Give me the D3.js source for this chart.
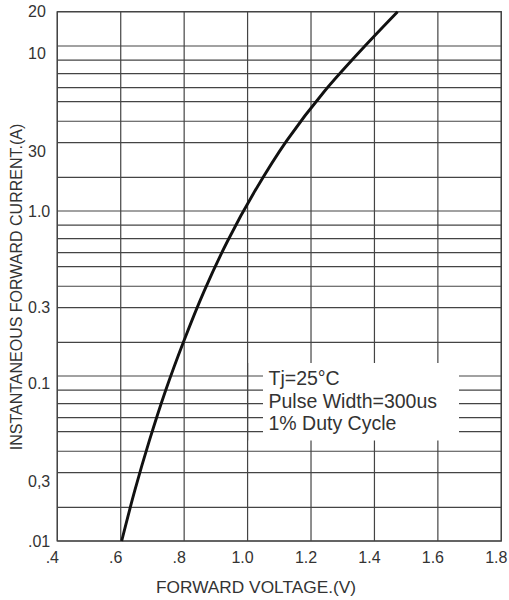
<!DOCTYPE html>
<html><head><meta charset="utf-8">
<script src="https://cdn.jsdelivr.net/npm/d3@7"></script>
<style>
body{margin:0;background:#fff}
svg{display:block}
text{font-family:"Liberation Sans",Arial,Helvetica,sans-serif;fill:#333}
</style>
</head><body>
<svg id="chart" width="509" height="600"></svg>
<script>
// ---- data ----
const voltage = [0.603,0.644,0.690,0.741,0.799,0.863,0.937,1.023,1.123,1.243,1.370,1.473];
const current = [0.01,0.0201,0.0404,0.0811,0.163,0.327,0.658,1.32,2.66,5.34,10,20];

const xTickValues = [0.4,0.6,0.8,1.0,1.2,1.4,1.6,1.8];
const xTickLabels = [".4",".6",".8","1.0","1.2","1.4","1.6","1.8"];

const yGridValues = [20,10,8.2,6.8,5.6,4.6,3.5,2.6,1.6,1,0.82,0.68,0.56,0.46,0.35,0.26,0.16,0.1,0.082,0.068,0.056,0.046,0.035,0.026,0.016,0.01];
const yTickValues = [20,9,2.3,1,0.26,0.09,0.023,0.01];
const yTickLabels = ["20","10","30","1.0","0.3","0.1","0,3",".01"];

const legendLines = ["Tj=25°C","Pulse Width=300us","1% Duty Cycle"];
const xTitle = "FORWARD VOLTAGE.(V)";
const yTitle = "INSTANTANEOUS FORWARD CURRENT.(A)";

// ---- layout ----
const L = 57.3, R = 501.3, T = 11.7, B = 541;
const svg = d3.select("#chart");

const x = d3.scaleLinear().domain([0.4,1.8]).range([L,R]);
const y = d3.scaleLog().domain([0.01,10,20]).range([B,46,T]);

const gridColor = "#444";

// grid
const g = svg.append("g");
g.selectAll("line.h").data(yGridValues).join("line")
  .attr("x1",L).attr("x2",R)
  .attr("y1",d=>y(d)).attr("y2",d=>y(d))
  .attr("stroke",gridColor).attr("stroke-width",1.2);
g.selectAll("line.v").data(xTickValues).join("line")
  .attr("x1",d=>x(d)).attr("x2",d=>x(d))
  .attr("y1",T).attr("y2",B)
  .attr("stroke",gridColor).attr("stroke-width",1.2);

// legend box knock-out
const box = {x0:263, x1:459, y0:363, y1:440.5};
svg.append("rect").attr("x",box.x0).attr("y",box.y0)
  .attr("width",box.x1-box.x0).attr("height",box.y1-box.y0).attr("fill","#fff");
svg.selectAll("line.keep").data([1.0]).join("line")
  .attr("x1",d=>x(d)).attr("x2",d=>x(d)).attr("y1",box.y0).attr("y2",box.y1)
  .attr("stroke",gridColor).attr("stroke-width",1.2);

// frame
svg.append("rect").attr("x",L).attr("y",T).attr("width",R-L).attr("height",B-T)
  .attr("fill","none").attr("stroke",gridColor).attr("stroke-width",1.3);

// curve (drawn top to bottom so y is monotonic increasing)
const pts = voltage.map((v,i)=>[v,current[i]]).sort((a,b)=>b[1]-a[1]);
svg.append("path").datum(pts)
  .attr("fill","none").attr("stroke","#111").attr("stroke-width",2.9)
  .attr("d",d3.line().x(d=>x(d[0])).y(d=>y(d[1])).curve(d3.curveMonotoneY));

// legend text
svg.selectAll("text.leg").data(legendLines).join("text")
  .attr("x",268.5).attr("y",(d,i)=>385+i*22.5)
  .attr("font-size",19.5).text(d=>d);

// x tick labels
svg.selectAll("text.xt").data(xTickValues).join("text")
  .attr("x",d=>x(d)-5).attr("y",563)
  .attr("text-anchor","middle").attr("font-size",16)
  .text((d,i)=>xTickLabels[i]);

// y tick labels
svg.selectAll("text.yt").data(yTickValues).join("text")
  .attr("x",28).attr("y",d=>y(d)).attr("dy","0.36em")
  .attr("font-size",16)
  .text((d,i)=>yTickLabels[i]);

// titles
svg.append("text").attr("x",256).attr("y",592.5).attr("text-anchor","middle")
  .attr("font-size",17.3).text(xTitle);
svg.append("text").attr("transform","translate(21.5,287) rotate(-90)")
  .attr("text-anchor","middle").attr("font-size",16).text(yTitle);
</script>
</body></html>
